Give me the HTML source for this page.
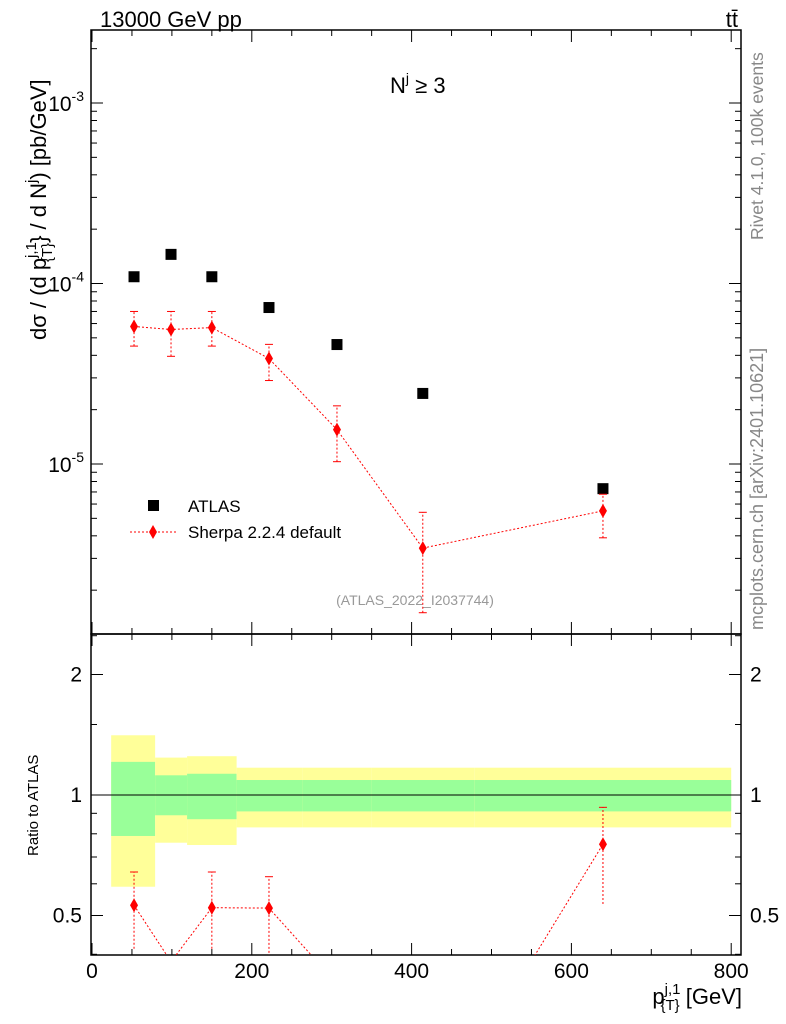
<!DOCTYPE html>
<html><head><meta charset="utf-8"><style>
body{margin:0;background:#fff;overflow:hidden}
svg{display:block;font-family:"Liberation Sans",sans-serif}
</style></head><body>
<svg id="c" width="786" height="1024" viewBox="0 0 786 1024">
<text x="100" y="27" font-size="22">13000 GeV pp</text>
<text x="738" y="27" font-size="22" text-anchor="end">tt̄</text>
<text x="390" y="93" font-size="22">N<tspan dy="-10" font-size="14">j</tspan><tspan dy="10"> ≥ 3</tspan></text>
<text transform="translate(763,240) rotate(-90)" font-size="17.5" fill="#888">Rivet 4.1.0,  100k events</text>
<text transform="translate(763,630) rotate(-90)" font-size="18" fill="#888">mcplots.cern.ch [arXiv:2401.10621]</text>
<text x="415" y="605" font-size="14" fill="#999" text-anchor="middle">(ATLAS_2022_I2037744)</text>
<text transform="translate(46,340) rotate(-90)" font-size="22">dσ / (d p<tspan dy="-10" font-size="15">j,1</tspan><tspan dy="16" dx="-20" font-size="15">{T}</tspan><tspan dy="-6">} / d N</tspan><tspan dy="-10" font-size="15">j</tspan><tspan dy="10">) [pb/GeV]</tspan></text>
<text transform="translate(38,856) rotate(-90)" font-size="15">Ratio to ATLAS</text>
<text x="742" y="1004" font-size="22" text-anchor="end">p<tspan dy="-10" font-size="15">j,1</tspan><tspan dy="16" dx="-20" font-size="15">{T}</tspan><tspan dy="-6"> [GeV]</tspan></text>
<g id="bands"></g><g id="axes"></g><g id="marks"></g>
<g>
<rect x="148" y="500" width="11" height="11" fill="#000"/>
<text x="188" y="512" font-size="17">ATLAS</text>
<line x1="130" y1="532" x2="178" y2="532" stroke="red" stroke-dasharray="2,2"/>
<path d="M153,525 L157,532 L153,539 L149,532Z" fill="red"/>
<text x="188" y="538" font-size="17">Sherpa 2.2.4 default</text>
</g>
</svg>
<script>
const xVals=[52.6,98.9,150,221.5,306.6,414,639.5];
const atlasVals=[1.09e-4,1.45e-4,1.09e-4,7.36e-5,4.59e-5,2.46e-5,7.3e-6];
const sherpaVals=[5.78e-5,5.56e-5,5.7e-5,3.84e-5,1.55e-5,3.42e-6,5.5e-6];
const sherpaLo=[4.5e-5,3.95e-5,4.5e-5,2.9e-5,1.03e-5,1.5e-6,3.9e-6];
const sherpaHi=[7.0e-5,7.0e-5,7.0e-5,4.6e-5,2.1e-5,5.4e-6,6.8e-6];
const binEdges=[24,79,119,181,263,350,479,800];
const yelLo=[0.59,0.76,0.75,0.83,0.83,0.83,0.83];
const yelHi=[1.41,1.24,1.25,1.17,1.17,1.17,1.17];
const grnLo=[0.79,0.89,0.87,0.91,0.91,0.91,0.91];
const grnHi=[1.21,1.12,1.13,1.09,1.09,1.09,1.09];
const xTicks=[0,200,400,600,800];
const NS="http://www.w3.org/2000/svg";
const L=91,R=741,T=30,M=634,B=955;
const X=v=>92+v*0.799;
const Y=v=>103-(Math.log10(v)+3)*180.5;
const RY=v=>795-Math.log2(v)*120.5;
function mk(p,t,a){const e=document.createElementNS(NS,t);for(const k in a)e.setAttribute(k,a[k]);document.getElementById(p).appendChild(e);return e;}
for(let i=0;i<7;i++){
 let e=mk('bands','rect',{x:X(binEdges[i]),width:X(binEdges[i+1])-X(binEdges[i]),y:RY(yelHi[i]),height:RY(yelLo[i])-RY(yelHi[i]),fill:'#ffff99'});
 
 
 e=mk('bands','rect',{x:X(binEdges[i]),width:X(binEdges[i+1])-X(binEdges[i]),y:RY(grnHi[i]),height:RY(grnLo[i])-RY(grnHi[i]),fill:'#99ff99'});
 
 
}
let ln=(x1,y1,x2,y2,w)=>mk('axes','line',{x1,y1,x2,y2,stroke:'#000','stroke-width':w||1});
mk('axes','rect',{x:L,y:T,width:R-L,height:M-T,fill:'none',stroke:'#000','stroke-width':1.5});
mk('axes','rect',{x:L,y:M,width:R-L,height:B-M,fill:'none',stroke:'#000','stroke-width':1.5});
ln(L,RY(1),R,RY(1));
for(let v=0;v<=800;v+=50){const x=X(v),mj=v%200==0,l=mj?12:6;
 ln(x,B,x,B-l);ln(x,M,x,M-l);ln(x,M,x,M+l);ln(x,T,x,T+l);}
xTicks.forEach(v=>{const t=mk('axes','text',{x:X(v),y:978,'font-size':21,'text-anchor':'middle'});t.textContent=v;
 
 });
for(let d=-6;d<=-3;d++)for(let m=1;m<10;m++){const v=m*Math.pow(10,d),y=Y(v);if(y<T||y>M)continue;const l=m==1?12:6;ln(L,y,L+l,y);ln(R,y,R-l,y);}
[-3,-4,-5].forEach(d=>{const t=mk('axes','text',{x:84,y:Y(Math.pow(10,d))+8,'font-size':21,'text-anchor':'end'});t.innerHTML='10<tspan dy="-10" font-size="14">'+d+'</tspan>';
 
 });
[0.4,0.5,0.6,0.7,0.8,0.9,1,1.5,2,2.5].forEach(v=>{const y=RY(v);if(y<M||y>B)return;const l=(v==0.5||v==1||v==2)?12:6;ln(L,y,L+l,y);ln(R,y,R-l,y);});
[[0.5,'0.5'],[1,'1'],[2,'2']].forEach(([v,s])=>{let t=mk('axes','text',{x:82,y:RY(v)+7,'font-size':21,'text-anchor':'end'});t.textContent=s;
 
 
 t=mk('axes','text',{x:750,y:RY(v)+7,'font-size':21});t.textContent=s;
 
 });
const dia=(x,y)=>`M${x},${y-7}L${x+4},${y}L${x},${y+7}L${x-4},${y}Z`;
mk('marks','polyline',{points:xVals.map((v,i)=>X(v)+','+Y(sherpaVals[i])).join(' '),fill:'none',stroke:'red','stroke-dasharray':'2,2'});
xVals.forEach((v,i)=>{const x=X(v);
 let e=mk('marks','rect',{x:x-5.5,y:Y(atlasVals[i])-5.5,width:11,height:11,fill:'#000'});
 
 
 e=mk('marks','line',{x1:x,x2:x,y1:Y(sherpaLo[i]),y2:Y(sherpaHi[i]),stroke:'red','stroke-dasharray':'2,2'});
 
 
 mk('marks','line',{x1:x-4,x2:x+4,y1:Y(sherpaLo[i]),y2:Y(sherpaLo[i]),stroke:'red'});
 mk('marks','line',{x1:x-4,x2:x+4,y1:Y(sherpaHi[i]),y2:Y(sherpaHi[i]),stroke:'red'});
 e=mk('marks','path',{d:dia(x,Y(sherpaVals[i])),fill:'red'});
 
 
});
const cp=mk('marks','clipPath',{id:'rc'});const cr=document.createElementNS(NS,'rect');cr.setAttribute('x',L);cr.setAttribute('y',M);cr.setAttribute('width',R-L);cr.setAttribute('height',B-M);cp.appendChild(cr);
const rg=mk('marks','g',{'clip-path':'url(#rc)'});rg.id='rg';
mk('rg','polyline',{points:xVals.map((v,i)=>X(v)+','+RY(sherpaVals[i]/atlasVals[i])).join(' '),fill:'none',stroke:'red','stroke-dasharray':'2,2'});
xVals.forEach((v,i)=>{const x=X(v),r=sherpaVals[i]/atlasVals[i];
 if(RY(r)>B)return;
 const lo=RY(sherpaLo[i]/atlasVals[i]),hi=RY(sherpaHi[i]/atlasVals[i]);
 let e=mk('rg','line',{x1:x,x2:x,y1:lo,y2:hi,stroke:'red','stroke-dasharray':'2,2'});
 
 
 mk('rg','line',{x1:x-4,x2:x+4,y1:hi,y2:hi,stroke:'red'});
 e=mk('rg','path',{d:dia(x,RY(r)),fill:'red'});
 
 
});
</script>
</body></html>
